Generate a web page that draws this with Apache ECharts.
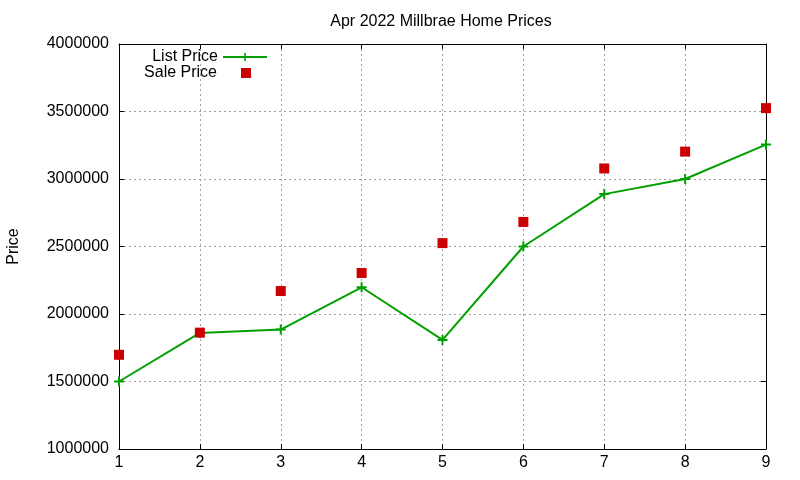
<!DOCTYPE html>
<html>
<head>
<meta charset="utf-8">
<script src="https://cdn.jsdelivr.net/npm/echarts@6/dist/echarts.min.js"></script>
<style>
  html, body { margin: 0; padding: 0; background: #fff; }
  #chart { width: 800px; height: 480px; }
</style>
</head>
<body>
<div id="chart"></div>
<script>
// values
var months = [1, 2, 3, 4, 5, 6, 7, 8, 9];
var listPrice = [1500000, 1860000, 1885000, 2198000, 1808000, 2500000, 2888000, 3000000, 3255000];
var salePrice = [1698000, 1862000, 2170000, 2304000, 2525000, 2682000, 3078000, 3203000, 3525000];

var font = 'Liberation Sans, Arial, sans-serif';
var plus = 'path://M4,0h2v4h4v2h-4v4h-2v-4h-4v-2h4z';
var square = 'path://M0,0h10v10h-10z';

function pairs(xs, ys) {
    return xs.map(function (x, i) { return [x, ys[i]]; });
}

var gridDash = { show: true, lineStyle: { color: '#a0a0a0', width: 1, type: [2, 3] } };
var tick = { show: true, inside: true, length: 5, lineStyle: { color: '#000' } };
var line = { show: true, lineStyle: { color: '#000', width: 1 } };
var legendText = { fontFamily: font, fontSize: 16, color: '#000' };

var chart = echarts.init(document.getElementById('chart'));
chart.setOption({
    animation: false,
    backgroundColor: '#fff',
    textStyle: { fontFamily: font },
    title: {
        text: 'Apr 2022 Millbrae Home Prices',
        left: 436,
        textAlign: 'center',
        top: 9,
        textStyle: { fontFamily: font, fontSize: 16, fontWeight: 'normal', color: '#000' }
    },
    legend: [{
        data: ['List Price'],
        orient: 'vertical',
        align: 'right',
        right: 527,
        top: 44,
        itemWidth: 44,
        itemHeight: 10,
        textStyle: legendText
    }, {
        // square centred where the line sample sits, text pushed left to match
        data: [{ name: 'Sale Price', icon: square }],
        orient: 'vertical',
        align: 'right',
        right: 544,
        top: 60,
        itemWidth: 10,
        itemHeight: 10,
        formatter: '{a|{name}}',
        textStyle: {
            fontFamily: font, fontSize: 16, color: '#000',
            rich: { a: { fontFamily: font, fontSize: 16, color: '#000', padding: [0, 19, 0, 0] } }
        }
    }],
    grid: { left: 119, right: 34, top: 44, bottom: 31, containLabel: false, outerBoundsMode: 'none' },
    xAxis: [{
        type: 'value',
        min: 1, max: 9, interval: 1,
        axisLine: line,
        axisTick: tick,
        splitLine: gridDash,
        axisLabel: { fontFamily: font, fontSize: 16, color: '#000', margin: 6 }
    }, {
        type: 'value',
        position: 'top',
        min: 1, max: 9, interval: 1,
        axisLine: line,
        axisTick: tick,
        splitLine: { show: false },
        axisLabel: { show: false }
    }],
    yAxis: [{
        type: 'value',
        min: 1000000, max: 4000000, interval: 500000,
        name: 'Price',
        nameLocation: 'middle',
        nameGap: 97,
        nameTextStyle: { fontFamily: font, fontSize: 16, color: '#000' },
        axisLine: line,
        axisTick: tick,
        splitLine: gridDash,
        axisLabel: {
            fontFamily: font, fontSize: 16, color: '#000', margin: 10,
            formatter: function (v) { return String(v); }
        }
    }, {
        type: 'value',
        position: 'right',
        min: 1000000, max: 4000000, interval: 500000,
        axisLine: line,
        axisTick: tick,
        splitLine: { show: false },
        axisLabel: { show: false }
    }],
    series: [{
        name: 'List Price',
        type: 'line',
        data: pairs(months, listPrice),
        symbol: plus,
        symbolSize: 10,
        showAllSymbol: true,
        lineStyle: { color: '#00a000', width: 2 },
        itemStyle: { color: '#00a000' },
        z: 3
    }, {
        name: 'Sale Price',
        type: 'scatter',
        data: pairs(months, salePrice),
        symbol: square,
        symbolSize: 10,
        symbolKeepAspect: true,
        itemStyle: { color: '#cc0000', opacity: 1 },
        z: 4
    }]
});
</script>
</body>
</html>
